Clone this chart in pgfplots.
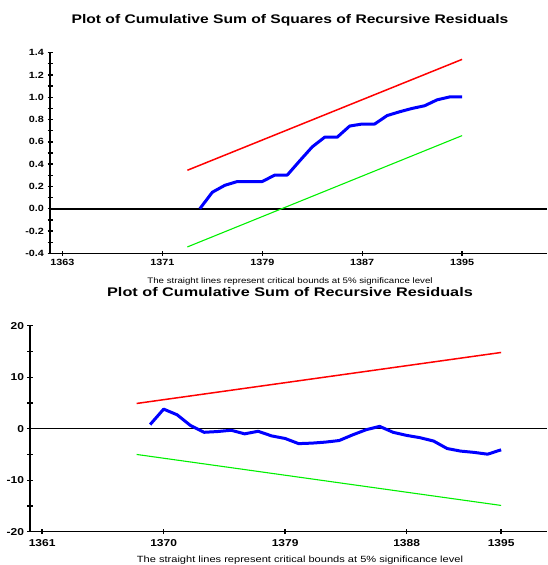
\documentclass[border=0pt]{standalone}
\usepackage{graphicx}
\usepackage{fontspec}
\setmainfont{Liberation Sans}
\usepackage{pgfplots}
\pgfplotsset{compat=1.18}

\definecolor{cbound}{RGB}{255,0,0}
\definecolor{clow}{RGB}{0,240,0}
\definecolor{cline}{RGB}{0,0,255}

% the reference text is set a little wide
\newcommand\sx[1]{\scalebox{1.2}[1]{#1}}

\pgfplotsset{
  cusum/.style={
    scale only axis,
    axis x line*=bottom,
    axis y line*=left,
    tick align=center,
    major tick length=5pt,
    minor tick length=5pt,
    minor y tick num=1,
    every tick/.style={black, line width=1.3pt},
    /pgf/number format/assume math mode=true,
    clip=false,
  }
}

\begin{document}
\begin{tikzpicture}
\path[use as bounding box] (0,0) rectangle (547pt,565pt);

% top: CUSUM of squares
\begin{axis}[cusum,
  at={(50pt,311.7pt)}, anchor=south west,
  width=497pt, height=200.6pt,
  xmin=1362, xmax=1401.8, ymin=-0.4, ymax=1.4,
  xtick={1363,1371,1379,1387,1395},
  xticklabels={\sx{1363},\sx{1371},\sx{1379},\sx{1387},\sx{1395}},
  ytick={-0.4,-0.2,0,0.2,0.4,0.6,0.8,1.0,1.2,1.4},
  yticklabels={\sx{-0.4},\sx{-0.2},\sx{0.0},\sx{0.2},\sx{0.4},\sx{0.6},\sx{0.8},\sx{1.0},\sx{1.2},\sx{1.4}},
  tick label style={font=\bfseries\fontsize{9}{10}\selectfont},
  x axis line style={line width=1.5pt},
  y axis line style={line width=2.2pt},
]
\addplot[black, line width=2pt] coordinates {(1362,0) (1401.8,0)};
\addplot[cbound, line width=1.5pt] coordinates {(1373,0.345) (1395,1.340)};
\addplot[clow, line width=1.1pt] coordinates {(1373,-0.343) (1395,0.656)};
\addplot[cline, line width=3pt, line join=round] table {
x y
1374 0.00
1375 0.148
1376 0.210
1377 0.244
1378 0.244
1379 0.244
1380 0.302
1381 0.302
1382 0.430
1383 0.555
1384 0.642
1385 0.642
1386 0.742
1387 0.760
1388 0.760
1389 0.836
1390 0.870
1391 0.900
1392 0.924
1393 0.977
1394 1.003
1395 1.003
};
\end{axis}

% bottom: CUSUM
\begin{axis}[cusum,
  at={(30pt,33.3pt)}, anchor=south west,
  width=517pt, height=206pt,
  xmin=1360.1, xmax=1398.4, ymin=-20, ymax=20,
  xtick={1361,1370,1379,1388,1395},
  xticklabels={\sx{1361},\sx{1370},\sx{1379},\sx{1388},\sx{1395}},
  ytick={-20,-10,0,10,20},
  yticklabels={\sx{-20},\sx{-10},\sx{0},\sx{10},\sx{20}},
  tick label style={font=\bfseries\fontsize{10}{11}\selectfont},
  xticklabel style={yshift=-2pt},
  x axis line style={line width=1.6pt},
  y axis line style={line width=1.6pt},
]
\addplot[black, line width=1.2pt] coordinates {(1360.1,0) (1398.4,0)};
\addplot[cbound, line width=1.5pt] coordinates {(1368,4.9) (1395,14.8)};
\addplot[clow, line width=1.1pt] coordinates {(1368,-5.0) (1395,-14.9)};
\addplot[cline, line width=3pt, line join=round] table {
x y
1369 0.8
1370 3.8
1371 2.7
1372 0.6
1373 -0.7
1374 -0.55
1375 -0.3
1376 -1.0
1377 -0.5
1378 -1.4
1379 -1.9
1380 -2.9
1381 -2.8
1382 -2.6
1383 -2.3
1384 -1.2
1385 -0.2
1386 0.45
1387 -0.7
1388 -1.3
1389 -1.75
1390 -2.4
1391 -3.85
1392 -4.35
1393 -4.6
1394 -4.95
1395 -4.1
};
\end{axis}

\node[font=\bfseries\fontsize{12.5}{14}\selectfont] at (290pt,545pt)
  {\scalebox{1.25}[1]{Plot of Cumulative Sum of Squares of Recursive Residuals}};
\node[font=\fontsize{8}{9}\selectfont] at (290pt,284pt)
  {\scalebox{1.21}[1]{The straight lines represent critical bounds at 5\% significance level}};
\node[font=\bfseries\fontsize{12.5}{14}\selectfont] at (290pt,272.5pt)
  {\scalebox{1.3}[1]{Plot of Cumulative Sum of Recursive Residuals}};
\node[font=\fontsize{9}{10}\selectfont] at (300pt,5pt)
  {\scalebox{1.23}[1]{The straight lines represent critical bounds at 5\% significance level}};
\end{tikzpicture}
\end{document}
